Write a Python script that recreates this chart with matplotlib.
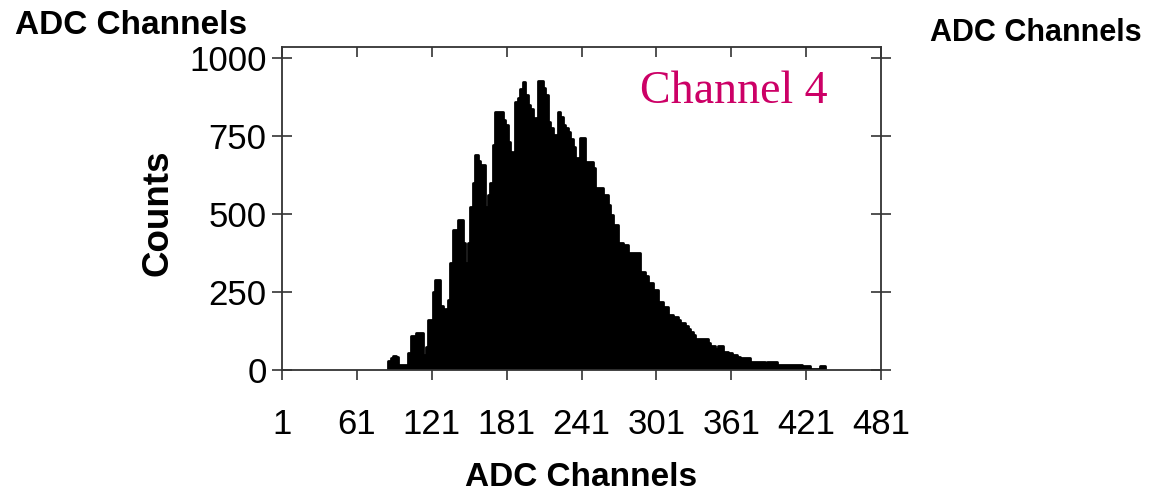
import numpy as np
import matplotlib
matplotlib.use("Agg")
import matplotlib.pyplot as plt

# ---- data ----
bin_start = 86
bin_width = 2
counts = [
    30, 38, 45, 42, 16, 15, 15, 16, 55, 109,
    109, 120, 120, 118, 48, 75, 160, 160, 250, 288,
    288, 205, 160, 195, 224, 342, 449, 449, 480, 480,
    407, 343, 407, 523, 600, 689, 670, 657, 657, 523,
    560, 599, 721, 828, 828, 828, 800, 785, 732, 700,
    690, 860, 871, 900, 924, 880, 849, 836, 750, 807,
    925, 925, 904, 880, 796, 775, 753, 753, 827, 810,
    785, 775, 763, 740, 715, 680, 680, 744, 744, 667,
    667, 667, 647, 583, 583, 583, 561, 561, 529, 497,
    465, 465, 407, 407, 401, 401, 375, 375, 375, 375,
    375, 314, 314, 300, 279, 279, 256, 256, 218, 218,
    203, 203, 176, 176, 170, 170, 160, 151, 151, 141,
    130, 122, 112, 99, 99, 99, 99, 99, 86, 77,
    77, 66, 77, 77, 58, 58, 55, 55, 48, 48,
    41, 38, 38, 38, 38, 26, 26, 26, 26, 26,
    26, 19, 26, 26, 26, 26, 16, 16, 16, 16,
    16, 16, 16, 16, 16, 16, 13, 13, 13, 3,
    3, 3, 3, 13, 13,
]
x_ticks = [1, 61, 121, 181, 241, 301, 361, 421, 481]
y_ticks = [0, 250, 500, 750, 1000]
panel_label = "Channel 4"
axis_label = "ADC Channels"
y_label = "Counts"

edges = bin_start + bin_width * np.arange(len(counts) + 1)

plt.rcParams['font.family'] = ['Liberation Sans', 'DejaVu Sans']

fig = plt.figure(figsize=(11.7, 4.96), dpi=100)
ax = fig.add_axes([282/1170, 126/496, (881-282)/1170, (370-47)/496])

ax.stairs(counts, edges, fill=True, color='black', baseline=0)
outline = ax.stairs(counts, edges, fill=False, color='black', lw=2, baseline=0)
outline.set_joinstyle('round')
outline.set_capstyle('round')

ax.set_xlim(1, 481)
ax.set_ylim(0, 1035)
ax.set_xticks(x_ticks)
ax.set_xticklabels([str(t) for t in x_ticks])
ax.set_yticks(y_ticks)
ax.set_yticklabels([str(t) for t in y_ticks])

for s in ax.spines.values():
    s.set_linewidth(1.3)
    s.set_color('#333333')

ax.tick_params(axis='x', which='major', direction='out', length=7, width=1.2,
               labelsize=25, pad=20, colors='#333333', labelcolor='black',
               top=True)
ax.tick_params(axis='y', which='major', direction='inout', length=14, width=1.2,
               labelsize=25, pad=4, colors='#333333', labelcolor='black',
               right=True)
# top ticks inward
for t in ax.xaxis.get_major_ticks():
    t.tick2line.set_marker(3)  # TICKDOWN
    t.tick2line.set_markersize(7)

fig.text(131/1170, 1 - 25/496, axis_label, ha='center', va='center',
         fontsize=24, fontweight='bold')
fig.text(1036/1170, 1 - 33/496, axis_label, ha='center', va='center',
         fontsize=22, fontweight='bold')
fig.text(581/1170, 1 - 478/496, axis_label, ha='center', va='center',
         fontsize=24, fontweight='bold')
fig.text(158/1170, 1 - 213/496, y_label, ha='center', va='center',
         fontsize=26.5, fontweight='bold', rotation=90)
ax.text(0.754, 0.86, panel_label, transform=ax.transAxes, ha='center',
        va='center', fontsize=33, color='#CC0066', family='Liberation Serif')

fig.savefig('out.png', dpi=100)
